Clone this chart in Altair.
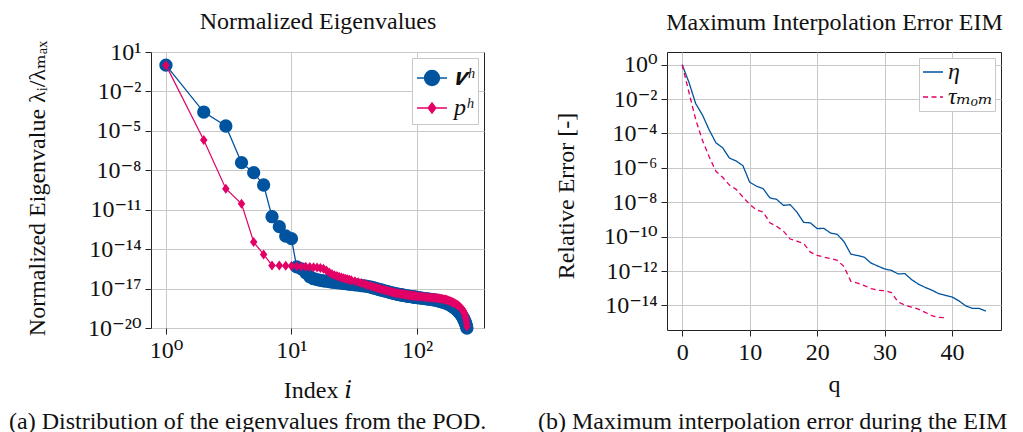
import altair as alt
import pandas as pd

BLUE = "#00549F"
PINK = "#E30066"
FONT = "'Liberation Serif', 'DejaVu Serif', serif"
FS = 24

# ---------------- left panel: normalized eigenvalues (log10 of lambda_i/lambda_max)
idx = (list(range(1, 31)) + list(range(32, 101, 2)) +
       list(range(104, 233, 4)) + list(range(234, 251, 2)))

v_exp = [0, -3.57, -4.63, -7.42, -8.18, -9.12, -11.53, -12.29, -13.00, -13.20,
         -15.35, -15.50, -15.80, -16.10, -16.25, -16.32, -16.37, -16.41, -16.44, -16.47,
         -16.50, -16.52, -16.54, -16.56, -16.58, -16.60, -16.62, -16.64, -16.66, -16.68,
         -16.71, -16.74, -16.77, -16.80, -16.83, -16.87, -16.92, -16.97, -17.02, -17.07,
         -17.11, -17.15, -17.19, -17.23, -17.27, -17.31, -17.34, -17.37, -17.40, -17.43,
         -17.45, -17.47, -17.49, -17.51, -17.53, -17.55, -17.57, -17.58, -17.60, -17.61,
         -17.63, -17.64, -17.65, -17.66, -17.68,
         -17.70, -17.72, -17.74, -17.76, -17.78, -17.80, -17.82, -17.84, -17.86, -17.88,
         -17.90, -17.93, -17.96, -17.99, -18.02, -18.05, -18.08, -18.12, -18.16, -18.20,
         -18.25, -18.30, -18.36, -18.42, -18.48, -18.55, -18.62, -18.70, -18.78, -18.87,
         -18.97, -19.07, -19.18,
         -19.25, -19.32, -19.40, -19.48, -19.57, -19.66, -19.76, -19.87, -20.00]

p_exp = [0, -5.70, -9.40, -10.55, -13.46, -14.40, -15.24, -15.25, -15.26, -15.28,
         -15.30, -15.32, -15.34, -15.36, -15.38, -15.40, -15.44, -15.50, -15.62, -15.78,
         -15.90, -15.98, -16.05, -16.11, -16.16, -16.21, -16.25, -16.29, -16.33, -16.37,
         -16.44, -16.51, -16.58, -16.65, -16.72, -16.78, -16.84, -16.90, -16.95, -17.00,
         -17.05, -17.09, -17.13, -17.17, -17.21, -17.25, -17.28, -17.31, -17.34, -17.36,
         -17.38, -17.40, -17.42, -17.44, -17.46, -17.47, -17.49, -17.50, -17.51, -17.53,
         -17.54, -17.55, -17.56, -17.57, -17.58,
         -17.60, -17.62, -17.63, -17.65, -17.66, -17.67, -17.68, -17.69, -17.70, -17.71,
         -17.72, -17.73, -17.75, -17.77, -17.79, -17.81, -17.83, -17.86, -17.89, -17.92,
         -17.96, -18.00, -18.04, -18.08, -18.12, -18.17, -18.22, -18.27, -18.33, -18.40,
         -18.47, -18.55, -18.65,
         -18.71, -18.78, -18.87, -18.97, -19.09, -19.23, -19.40, -19.62, -19.88]

left_y_ticks = [1, -2, -5, -8, -11, -14, -17, -20]
left_x_ticks = [0, 1, 2]

# ---------------- right panel: maximum interpolation error (log10)
q_eta = list(range(0, 46))
eta_exp = [0, -1.02, -2.26, -2.92, -3.79, -4.54, -4.83, -5.43, -5.60, -5.87,
           -6.83, -7.06, -7.21, -7.75, -7.83, -8.18, -8.14, -8.57, -9.17, -9.20,
           -9.53, -9.52, -9.79, -9.87, -10.30, -11.02, -11.10, -11.20, -11.54, -11.71,
           -11.88, -11.96, -12.17, -12.15, -12.50, -12.76, -12.95, -13.11, -13.31, -13.42,
           -13.51, -13.73, -14.02, -14.17, -14.17, -14.33]
q_tau = list(range(0, 40))
tau_exp = [0, -1.60, -3.18, -4.40, -5.35, -6.20, -6.55, -7.00, -7.25, -7.70,
           -8.12, -8.45, -8.57, -9.19, -9.40, -9.68, -10.14, -10.26, -10.39, -10.90,
           -11.09, -11.19, -11.27, -11.38, -11.75, -12.60, -12.70, -12.85, -13.02, -13.12,
           -13.14, -13.25, -13.80, -13.98, -14.10, -14.22, -14.40, -14.60, -14.70, -14.72]

right_y_ticks = [0, -2, -4, -6, -8, -10, -12, -14]
right_x_ticks = [0, 10, 20, 30, 40]

# ---------------- tables
left_df = pd.DataFrame(
    [{"i": i, "val": 10.0 ** e, "series": "v"} for i, e in zip(idx, v_exp)] +
    [{"i": i, "val": 10.0 ** e, "series": "p"} for i, e in zip(idx, p_exp)])
right_df = pd.DataFrame(
    [{"q": q, "val": 10.0 ** e, "err": "eta"} for q, e in zip(q_eta, eta_exp)] +
    [{"q": q, "val": 10.0 ** e, "err": "tau"} for q, e in zip(q_tau, tau_exp)])

SUP = str.maketrans("0123456789-", "⁰¹²³⁴⁵⁶⁷⁸⁹⁻")


def pow_labels(exps):
    expr = "''"
    for e in exps:
        s = "10" + str(e).translate(SUP)
        expr = f"abs(log(datum.value)/LN10 - ({e})) < 0.5 ? '{s}' : ({expr})"
    return expr


CIRC_LEG = "M-1,0L1,0M0.5,0A0.5,0.5,0,1,1,-0.5,0A0.5,0.5,0,1,1,0.5,0Z"
DIAM_LEG = "M-1,0L1,0M0,-0.34L0.26,0L0,0.34L-0.26,0Z"
DIAM = "M0,-1L0.75,0L0,1L-0.75,0Z"

leg_left = alt.Legend(
    title=None, orient="top-right", offset=6, padding=4, rowPadding=2,
    fillColor="white", strokeColor="#c8c8c8", symbolSize=900, symbolStrokeWidth=1.3,
    symbolOpacity=1, labelOffset=6,
    labelFont=FONT, labelFontSize=FS, labelFontStyle="italic", labelColor="#111",
    labelExpr="datum.value == 'v' ? '𝒗ʰ' : 'pʰ'")

dom_l = ["v", "p"]
scxL = alt.Scale(type="log", domain=[0.76, 342], nice=False)
scyL = alt.Scale(type="log", domain=[1e-20, 10], nice=False)

axL_bottom = alt.Axis(values=[10 ** e for e in left_x_ticks], labelExpr=pow_labels(left_x_ticks),
                      title="Index 𝑖", titleY=69, titleBaseline="alphabetic", grid=True,
                      labelFlush=False, labelOverlap=False)
axL_top = alt.Axis(orient="top", title="Normalized Eigenvalues", labels=False, ticks=False,
                   domain=False, grid=False, titleY=-24, titleBaseline="alphabetic")
axL_y = alt.Axis(values=[10.0 ** e for e in left_y_ticks], labelExpr=pow_labels(left_y_ticks),
                 title="Normalized Eigenvalue λᵢ/λₘₐₓ", titleX=-107, titleY=136,
                 titleBaseline="alphabetic", titleAlign="center", grid=True,
                 labelFlush=False, labelOverlap=False)

yL = alt.Y("val:Q", scale=scyL, axis=axL_y)
baseL = alt.Chart(left_df)
fv = "datum.series == 'v'"
fp = "datum.series == 'p'"
# carrier of the legend (line + marker symbols); its rows are filtered out so it draws nothing
legend_layer = baseL.transform_filter("datum.i < 0").mark_point(filled=True).encode(
    x=alt.X("i:Q", scale=scxL, axis=None), y=yL,
    fill=alt.Fill("series:N", scale=alt.Scale(domain=dom_l, range=[BLUE, PINK]), legend=leg_left),
    stroke=alt.Stroke("series:N", scale=alt.Scale(domain=dom_l, range=[BLUE, PINK]), legend=leg_left),
    shape=alt.Shape("series:N", scale=alt.Scale(domain=dom_l, range=[CIRC_LEG, DIAM_LEG]), legend=leg_left))
blue_line = baseL.transform_filter(fv).mark_line(strokeWidth=1.3, color=BLUE).encode(
    x=alt.X("i:Q", scale=scxL, axis=axL_bottom), y=yL)
blue_pts = baseL.transform_filter(fv).mark_point(shape="circle", filled=True, size=177, opacity=1,
                                                 color=BLUE).encode(
    x=alt.X("i:Q", scale=scxL, axis=None), y=yL)
pink_line = baseL.transform_filter(fp).mark_line(strokeWidth=1.2, color=PINK).encode(
    x=alt.X("i:Q", scale=scxL, axis=None), y=yL)
pink_pts = baseL.transform_filter(fp).mark_point(shape=DIAM, filled=True, size=100, opacity=1,
                                                 color=PINK).encode(
    x=alt.X("i:Q", scale=scxL, axis=axL_top), y=yL)

left = alt.layer(blue_line, blue_pts, pink_line, pink_pts, legend_layer).resolve_axis(
    x="independent").properties(
    width=333, height=276,
    title=alt.Title("(a) Distribution of the eigenvalues from the POD.", orient="bottom",
                    anchor="start", frame="group", dx=-142, offset=8))

# ---------------- right chart
leg_right = alt.Legend(
    title=None, orient="top-right", offset=6, padding=2, rowPadding=1,
    fillColor="white", strokeColor="#c8c8c8", symbolType="stroke", symbolSize=400,
    symbolStrokeWidth=1.3, labelOffset=3, labelFont=FONT, labelFontSize=FS,
    labelFontStyle="italic", labelColor="#111",
    labelExpr="datum.value == 'eta' ? 'η' : 'τₘₒₘ'")
dom_r = ["eta", "tau"]
colR = alt.Color("err:N", scale=alt.Scale(domain=dom_r, range=[BLUE, PINK]), legend=leg_right)
dashR = alt.StrokeDash("err:N", scale=alt.Scale(domain=dom_r, range=[[1, 0], [5, 3.5]]),
                       legend=leg_right)
scxR = alt.Scale(domain=[-2.25, 47.25], nice=False, zero=False)
scyR = alt.Scale(type="log", domain=[10 ** -15.43, 10 ** 0.74], nice=False)

axR_bottom = alt.Axis(values=right_x_ticks, title="q", titleY=61, titleBaseline="alphabetic",
                      grid=True, labelFlush=False, labelOverlap=False)
axR_top = alt.Axis(orient="top", title="Maximum Interpolation Error EIM", labels=False, ticks=False,
                   domain=False, grid=False, titleY=-23, titleBaseline="alphabetic")
axR_y = alt.Axis(values=[10.0 ** e for e in right_y_ticks], labelExpr=pow_labels(right_y_ticks),
                 title="Relative Error [-]", titleX=-94, titleY=143.5, titleBaseline="alphabetic",
                 titleAlign="center", grid=True, labelFlush=False, labelOverlap=False)

yR = alt.Y("val:Q", scale=scyR, axis=axR_y)
baseR = alt.Chart(right_df)
eta_line = baseR.transform_filter("datum.err == 'eta'").mark_line(strokeWidth=1.3).encode(
    x=alt.X("q:Q", scale=scxR, axis=axR_bottom), y=yR, color=colR, strokeDash=dashR)
tau_line = baseR.transform_filter("datum.err == 'tau'").mark_line(strokeWidth=1.3).encode(
    x=alt.X("q:Q", scale=scxR, axis=axR_top), y=yR, color=colR, strokeDash=dashR)

right = alt.layer(eta_line, tau_line).resolve_axis(x="independent").properties(
    width=334, height=278,
    title=alt.Title("(b) Maximum interpolation error during the EIM", orient="bottom",
                    anchor="start", frame="group", dx=-129, offset=14, limit=477))

chart = alt.hconcat(left, right, spacing=183, bounds="flush").resolve_scale(
    color="independent", fill="independent", stroke="independent",
    shape="independent", strokeDash="independent"
).resolve_legend(
    color="independent", fill="independent", stroke="independent",
    shape="independent", strokeDash="independent"
).properties(padding=0).configure_view(
    stroke="#222", strokeWidth=1
).configure_axis(
    domain=False, tickColor="#222", tickSize=6, tickWidth=1, labelPadding=4,
    labelFont=FONT, labelFontSize=FS, labelColor="#111",
    titleFont=FONT, titleFontSize=FS, titleFontWeight="normal", titleColor="#111",
    gridColor="#c8c8c8", gridWidth=1
).configure_title(font=FONT, fontSize=FS, fontWeight="normal", color="#111")

chart.save("out.html", embed_options={"renderer": "svg", "actions": False})
